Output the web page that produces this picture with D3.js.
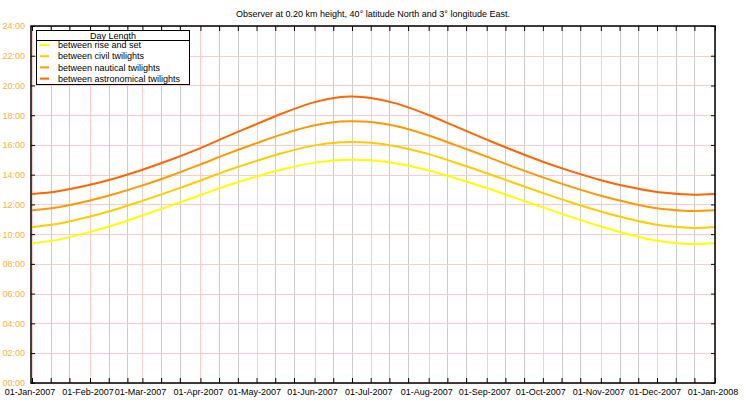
<!DOCTYPE html>
<html><head><meta charset="utf-8">
<script src="https://cdn.jsdelivr.net/npm/d3@7"></script>
<style>body{margin:0;background:#fff}svg{display:block}text{font-family:"Liberation Sans",Arial,sans-serif}</style>
</head><body><svg id="c" width="745" height="400"></svg>
<script>
const title = "Observer at 0.20 km height, 40° latitude North and 3° longitude East.";
const legendTitle = "Day Length";
const dates = ["2007-01-01","2007-01-15","2007-02-01","2007-02-15","2007-03-01","2007-03-15","2007-04-01","2007-04-15","2007-05-01","2007-05-15","2007-06-01","2007-06-15","2007-06-21","2007-07-01","2007-07-15","2007-08-01","2007-08-15","2007-09-01","2007-09-15","2007-10-01","2007-10-15","2007-11-01","2007-11-15","2007-12-01","2007-12-15","2007-12-21","2008-01-01"];
// day length in hours
const riseSet      = [9.38,9.63,10.15,10.67,11.26,11.87,12.63,13.25,13.87,14.36,14.81,14.99,15.01,14.97,14.75,14.28,13.78,13.10,12.49,11.80,11.20,10.51,10.01,9.55,9.36,9.33,9.38];
const civil        = [10.48,10.70,11.18,11.67,12.24,12.84,13.61,14.26,14.93,15.46,15.97,16.18,16.20,16.15,15.90,15.38,14.82,14.10,13.47,12.77,12.18,11.52,11.05,10.63,10.45,10.42,10.48];
const nautical     = [11.60,11.81,12.26,12.73,13.28,13.88,14.69,15.38,16.12,16.73,17.32,17.58,17.60,17.54,17.25,16.63,16.00,15.21,14.54,13.82,13.23,12.58,12.14,11.74,11.58,11.56,11.60];
const astronomical = [12.70,12.89,13.32,13.78,14.33,14.95,15.79,16.56,17.40,18.13,18.88,19.22,19.25,19.16,18.78,18.01,17.26,16.36,15.64,14.87,14.27,13.63,13.20,12.83,12.68,12.65,12.70];
const seriesNames  = ["between rise and set","between civil twilights","between nautical twilights","between astronomical twilights"];
const seriesColors = ["#ffff00","#ffcc00","#ff9900","#ff6600"];
const yTickValues  = [0,2,4,6,8,10,12,14,16,18,20,22,24];
const yTickLabels  = ["00:00","02:00","04:00","06:00","08:00","10:00","12:00","14:00","16:00","18:00","20:00","22:00","24:00"];

const svg = d3.select("#c");
const L = 31, R = 715, T = 26, B = 383;
const parse = d3.utcParse("%Y-%m-%d");
const dts = dates.map(parse);
const x = d3.scaleUtc().domain([parse("2007-01-01"), parse("2008-01-01")]).range([32, 715]);
const y = d3.scaleLinear().domain([0, 24]).range([382.8, 26]);

const monthTicks = d3.utcMonth.range(parse("2007-01-01"), parse("2008-01-02"));
const minorTicks = d3.utcDay.range(parse("2007-01-01"), parse("2008-01-01")).filter(d => d.getUTCDate() === 11 || d.getUTCDate() === 21);
const allTicks = monthTicks.concat(minorTicks).sort((a,b)=>a-b);

// gridlines
const grid = svg.append("g");
grid.selectAll(".gm").data(minorTicks).join("line")
  .attr("x1", d => Math.round(x(d))+0.5).attr("x2", d => Math.round(x(d))+0.5)
  .attr("y1", T).attr("y2", B).attr("stroke", "#cccccc").attr("stroke-width", 1);
grid.selectAll(".gM").data(monthTicks).join("line")
  .attr("x1", d => Math.round(x(d))+0.5).attr("x2", d => Math.round(x(d))+0.5)
  .attr("y1", T+5).attr("y2", B-5).attr("stroke", "#ffcccc").attr("stroke-width", 1);
grid.selectAll(".gh").data(yTickValues).join("line")
  .attr("x1", L+4).attr("x2", R-4)
  .attr("y1", d => Math.round(y(d))+0.5).attr("y2", d => Math.round(y(d))+0.5)
  .attr("stroke", "#ffcccc").attr("stroke-width", 1);

// series
const series = [riseSet, civil, nautical, astronomical];
const line = d3.line().x((d,i) => x(dts[i])).y(d => y(d)).curve(d3.curveCatmullRom.alpha(0.5));
svg.append("g").selectAll("path").data(series).join("path")
  .attr("d", d => line(d)).attr("fill", "none")
  .attr("stroke", (d,i) => seriesColors[i]).attr("stroke-width", 2);

// axes
const fmt = d3.utcFormat("%d-%b-%Y");
const xb = svg.append("g").attr("transform", `translate(0,${B})`)
  .call(d3.axisBottom(x).tickValues(allTicks).tickSizeInner(-5).tickSizeOuter(0).tickPadding(6)
    .tickFormat(d => d.getUTCDate() === 1 ? fmt(d) : ""));
xb.selectAll("text").attr("font-size", "9px").attr("fill", "#000").attr("dx", -2.5)
  .attr("font-family", '"Liberation Sans",Arial,sans-serif');
const xt = svg.append("g").attr("transform", `translate(0,${T})`)
  .call(d3.axisTop(x).tickValues(allTicks).tickSizeInner(-5).tickSizeOuter(0).tickFormat(""));
const yl = svg.append("g").attr("transform", `translate(${L},0)`)
  .call(d3.axisLeft(y).tickValues(yTickValues).tickSizeInner(-4).tickSizeOuter(0).tickPadding(6)
    .tickFormat((d,i) => yTickLabels[i]));
yl.selectAll("text").attr("font-size", "9px").attr("fill", "#fbb03b")
  .attr("font-family", '"Liberation Sans",Arial,sans-serif');
const yr = svg.append("g").attr("transform", `translate(${R},0)`)
  .call(d3.axisRight(y).tickValues(yTickValues).tickSizeInner(-4).tickSizeOuter(0).tickFormat(""));
svg.selectAll(".domain").remove();
svg.selectAll(".tick line").attr("stroke", "#000");

svg.append("rect").attr("x", L).attr("y", T).attr("width", R-L).attr("height", B-T)
  .attr("fill", "none").attr("stroke", "#000").attr("stroke-width", 1.5);

// title
svg.append("text").attr("x", (L+R)/2).attr("y", 17).attr("text-anchor", "middle")
  .attr("font-size", "9px").attr("fill", "#000").text(title);

// legend
const lg = svg.append("g");
lg.append("rect").attr("x", 36.5).attr("y", 30.5).attr("width", 153).attr("height", 54)
  .attr("fill", "#fff").attr("stroke", "#000").attr("stroke-width", 1);
lg.append("text").attr("x", 113).attr("y", 38.5).attr("text-anchor", "middle")
  .attr("font-size", "9px").text(legendTitle);
lg.append("line").attr("x1", 36.5).attr("x2", 189.5).attr("y1", 40.5).attr("y2", 40.5)
  .attr("stroke", "#000").attr("stroke-width", 1);
const items = lg.selectAll(".it").data(seriesNames).join("g")
  .attr("transform", (d,i) => `translate(0,${45 + i*11.2})`);
items.append("line").attr("x1", 40).attr("x2", 49).attr("y1", 0).attr("y2", 0)
  .attr("stroke", (d,i) => seriesColors[i]).attr("stroke-width", 2);
items.append("text").attr("x", 58).attr("y", 3.2).attr("font-size", "9px").text(d => d);
</script></body></html>
